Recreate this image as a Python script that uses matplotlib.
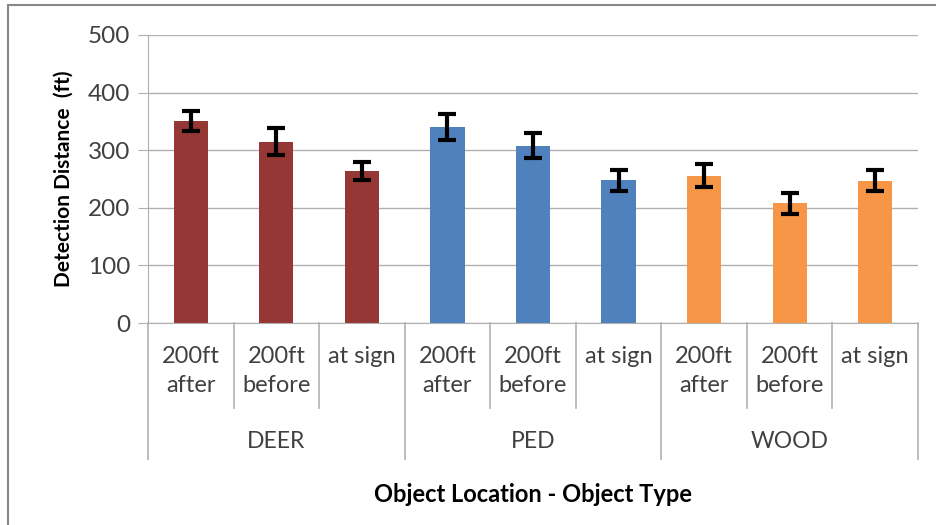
import matplotlib

matplotlib.use("Agg")
import matplotlib.pyplot as plt
import matplotlib.transforms as mtransforms
from matplotlib.patches import Rectangle

groups = ["DEER", "PED", "WOOD"]
locations = ["200ft\nafter", "200ft\nbefore", "at sign"]
means = [351, 315, 264, 340, 308, 248, 256, 208, 247]
errors = [17, 23, 16, 22, 21, 18, 20, 18, 18]
group_colors = ["#953735", "#4f81bd", "#f79646"]

_FONT = "Lato"
_TEXT = "#404040"
_GRID = "#b0b0b0"

W, H = 936, 525
fig = plt.figure(figsize=(W / 100, H / 100), dpi=100)
# outer chart border: only top and left edges fall inside the image
fig.patches.append(Rectangle((8 / W, -0.2), 1.2, 1.2 - 5 / H, transform=fig.transFigure,
                             fill=False, edgecolor="#888888", linewidth=1.5))

left, right, top, bottom = 148, 918, 35, 323
ax = fig.add_axes([left / W, 1 - bottom / H, (right - left) / W, (bottom - top) / H])

n_loc = len(locations)
x = list(range(len(means)))
colors = [group_colors[i // n_loc] for i in x]
ax.bar(x, means, width=0.4, color=colors, zorder=2)
ax.errorbar(x, means, yerr=errors, fmt="none", ecolor="black", elinewidth=3,
            capsize=6.5, capthick=3, zorder=3)

ax.set_xlim(-0.5, len(means) - 0.5)
ax.set_ylim(0, 500)
ax.set_yticks(range(0, 501, 100))
ax.yaxis.grid(True, color=_GRID, linewidth=1)
ax.set_axisbelow(True)
ax.set_xticks([])
ax.tick_params(axis="y", direction="out", length=7, color=_GRID, labelsize=17.5,
               labelcolor=_TEXT, pad=6)
for lbl in ax.get_yticklabels():
    lbl.set_fontfamily(_FONT)
for side in ["top", "right"]:
    ax.spines[side].set_visible(False)
for side in ["left", "bottom"]:
    ax.spines[side].set_color(_GRID)

ax.set_ylabel("Detection Distance  (ft)", fontsize=15, fontweight="bold",
              family=_FONT, color="black", labelpad=10)

# hierarchical category axis
trans = mtransforms.blended_transform_factory(ax.transData, fig.transFigure)
def fy(py):
    return 1 - py / H

for i in range(len(means) + 1):
    xb = i - 0.5
    end = 459 if i % n_loc == 0 else 408
    ax.plot([xb, xb], [fy(bottom), fy(end)], transform=trans, color=_GRID,
            linewidth=1.2, clip_on=False)
for i in x:
    ax.text(i, fy(346), locations[i % n_loc], transform=trans, ha="center", va="top",
            fontsize=17, family=_FONT, color=_TEXT, linespacing=1.5)
for g, name in enumerate(groups):
    ax.text(g * n_loc + (n_loc - 1) / 2, fy(441), name, transform=trans,
            ha="center", va="center", fontsize=16.5, family=_FONT, color=_TEXT)

fig.text((left + right) / 2 / W, fy(494), "Object Location - Object Type",
         ha="center", va="center", fontsize=17, fontweight="bold", family=_FONT)

fig.savefig("out.png", dpi=100, facecolor="white")
